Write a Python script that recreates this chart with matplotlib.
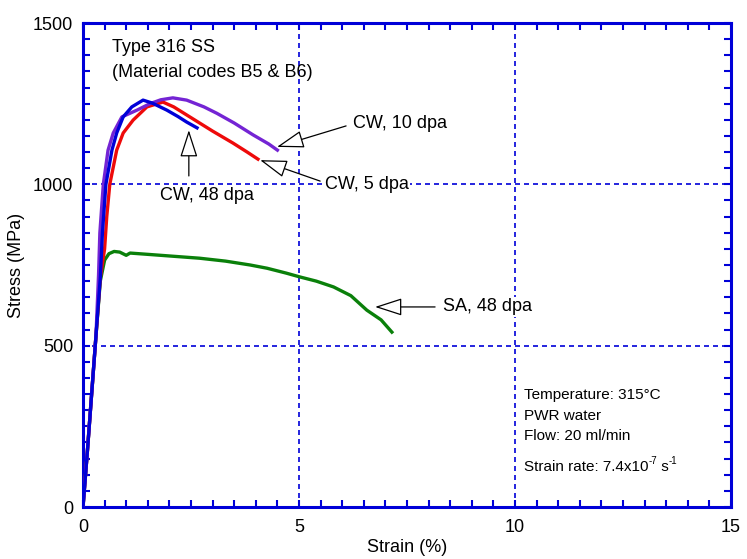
import matplotlib
matplotlib.use("Agg")
import matplotlib.pyplot as plt
from matplotlib.transforms import offset_copy

plt.rcParams['font.family'] = ['Liberation Sans', 'DejaVu Sans']

# CW, 48 dpa (blue)
cw48_strain = [0, 0.1, 0.2, 0.3, 0.4, 0.45, 0.53, 0.67, 0.78, 0.93, 1.13, 1.39, 1.6, 1.94, 2.2, 2.4, 2.64]
cw48_stress = [0, 170, 350, 530, 710, 850, 1000, 1106, 1159, 1209, 1240, 1261, 1252, 1230, 1210, 1193, 1175]

# CW, 10 dpa (purple)
cw10_strain = [0, 0.1, 0.2, 0.3, 0.36, 0.39, 0.47, 0.58, 0.7, 0.9, 1.25, 1.55, 1.8, 2.08, 2.4, 2.8, 3.1, 3.5, 3.94, 4.3, 4.5]
cw10_stress = [0, 170, 350, 530, 720, 849, 1000, 1106, 1159, 1209, 1230, 1250, 1262, 1268, 1261, 1240, 1220, 1190, 1153, 1125, 1106]

# CW, 5 dpa (red)
cw5_strain = [0, 0.1, 0.2, 0.3, 0.4, 0.5, 0.55, 0.62, 0.78, 0.93, 1.16, 1.48, 1.85, 2.1, 2.4, 3.0, 3.47, 3.8, 4.05]
cw5_stress = [0, 170, 350, 530, 710, 800, 900, 1000, 1106, 1159, 1199, 1240, 1255, 1240, 1215, 1165, 1128, 1100, 1078]

# SA, 48 dpa (green)
sa48_strain = [0, 0.1, 0.2, 0.3, 0.4, 0.5, 0.6, 0.72, 0.85, 1.0, 1.09, 1.5, 2.0, 2.7, 3.3, 3.87, 4.26, 4.7, 5.02, 5.4, 5.8, 6.2, 6.57, 6.9, 7.15]
sa48_stress = [0, 170, 350, 530, 700, 765, 785, 792, 790, 780, 787, 783, 778, 771, 762, 750, 740, 725, 713, 700, 682, 655, 610, 580, 542]

x_ticks = [0, 5, 10, 15]
y_ticks = [0, 500, 1000, 1500]

BLUE = '#0000D8'

fig = plt.figure(figsize=(7.47, 5.59), dpi=100)
ax = fig.add_axes([83/747, 1-507/559, (731-83)/747, (507-23)/559])

ax.set_xlim(0, 15)
ax.set_ylim(0, 1500)
ax.set_xticks(x_ticks)
ax.set_yticks(y_ticks)
ax.set_xticks([i*0.5 for i in range(31)], minor=True)
ax.set_yticks([i*50 for i in range(31)], minor=True)

for s in ax.spines.values():
    s.set_color(BLUE)
    s.set_linewidth(2.2)
ax.tick_params(which='both', direction='in', top=True, right=True, color=BLUE,
               length=5, width=1.5, labelsize=13)
ax.tick_params(axis='y', pad=7)
ax.tick_params(axis='x', pad=9)

# grid
for gx in [5, 10]:
    ax.axvline(gx, color=BLUE, lw=1.2, ls=(0, (3, 2.4)), zorder=1)
for gy in [500, 1000]:
    ax.axhline(gy, color=BLUE, lw=1.2, ls=(0, (3, 2.4)), zorder=1)

ax.plot(sa48_strain, sa48_stress, color='#0A800A', lw=2.4, zorder=3)
ax.plot(cw5_strain, cw5_stress, color='#EE0A0A', lw=2.4, zorder=3)
ax.plot(cw10_strain, cw10_stress, color='#7424D4', lw=2.4, zorder=3)
ax.plot(cw48_strain, cw48_stress, color=BLUE, lw=2.4, zorder=4)

ax.set_xlabel('Strain (%)', fontsize=13, labelpad=2)
ax.set_ylabel('Stress (MPa)', fontsize=13, labelpad=6)

bbox_w = dict(facecolor='white', edgecolor='none', pad=1)
ax.text(0.67, 1425, 'Type 316 SS', fontsize=13, va='center', ha='left')
ax.text(0.67, 1348, '(Material codes B5 & B6)', fontsize=13, va='center', ha='left')

arrow = dict(arrowstyle='-|>,head_length=1.7,head_width=0.55', fc='white', ec='black', lw=0.9,
             shrinkA=0, shrinkB=0)
# CW, 10 dpa
ax.annotate('', xy=(4.49, 1116), xytext=(6.09, 1181), arrowprops=arrow, zorder=6)
ax.text(6.25, 1187, 'CW, 10 dpa', fontsize=13, va='center', ha='left', bbox=bbox_w, zorder=5)
# CW, 5 dpa
ax.annotate('', xy=(4.1, 1075), xytext=(5.49, 1010), arrowprops=arrow, zorder=6)
ax.text(5.6, 1001, 'CW, 5 dpa', fontsize=13, va='center', ha='left', bbox=bbox_w, zorder=5)
# CW, 48 dpa
ax.annotate('', xy=(2.45, 1168), xytext=(2.45, 1026), arrowprops=arrow, zorder=6)
ax.text(2.87, 965, 'CW, 48 dpa', fontsize=13, va='center', ha='center', bbox=bbox_w, zorder=5)
# SA, 48 dpa
ax.annotate('', xy=(6.76, 620), xytext=(8.15, 620), arrowprops=arrow, zorder=6)
ax.text(8.33, 620, 'SA, 48 dpa', fontsize=13, va='center', ha='left', bbox=bbox_w, zorder=5)

# conditions
ax.text(10.2, 347, 'Temperature: 315°C', fontsize=11, va='center', ha='left')
ax.text(10.2, 282, 'PWR water', fontsize=11, va='center', ha='left')
ax.text(10.2, 220, 'Flow: 20 ml/min', fontsize=11, va='center', ha='left')

# strain rate line with hand-placed superscripts (hyphen, not minus)
pieces = [('Strain rate: 7.4x10', 11, 0), ('-7', 7, 5), (' s', 11, 0), ('-1', 7, 5)]
fig.canvas.draw()
renderer = fig.canvas.get_renderer()
trans = ax.transData
dx = 0.0
for txt, fs, dy in pieces:
    t = ax.text(10.2, 130, txt, fontsize=fs, va='baseline', ha='left',
                transform=offset_copy(trans, fig=fig, x=dx, y=dy - 4, units='points'))
    bb = t.get_window_extent(renderer=renderer)
    dx += bb.width * 72.0 / fig.dpi

fig.savefig('out.png', dpi=100)
